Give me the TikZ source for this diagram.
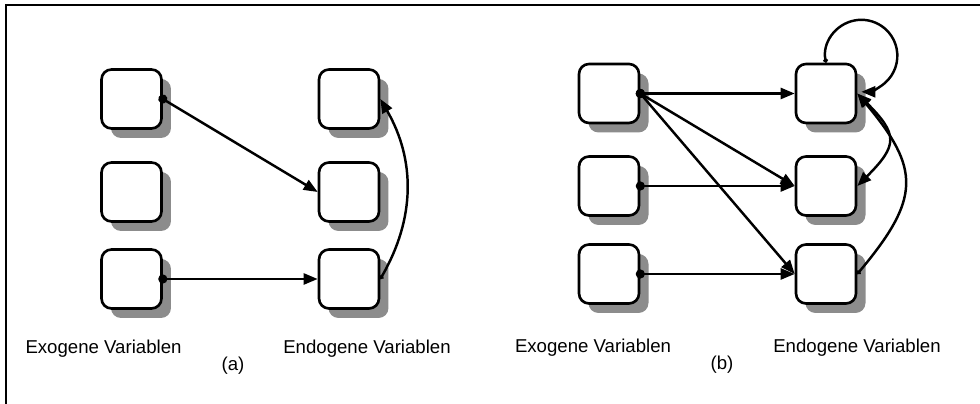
\documentclass[tikz,border=0pt]{standalone}
\usepackage{fontspec}
\setmainfont{Liberation Sans}
\usetikzlibrary{arrows.meta,shadows}

\begin{document}
\begin{tikzpicture}[x=0.02cm,y=0.02cm,
        var/.style={draw=black,line width=1.5pt,fill=white,rounded corners=0.2cm,
            minimum width=1.2cm,minimum height=1.18cm,
            drop shadow={shadow xshift=0.19cm,shadow yshift=-0.19cm,fill=black!45,opacity=1}},
        pfeil/.style={line width=1.4pt,shorten <=-0.09cm,
            {Circle[length=0.18cm]}-{Triangle[length=0.28cm,width=0.22cm]}},
        bogen/.style={line width=1.4pt,{Circle[length=0.09cm]}-{Triangle[length=0.28cm,width=0.22cm]}},
        beide/.style={line width=1.4pt,{Triangle[length=0.28cm,width=0.22cm]}-{Triangle[length=0.28cm,width=0.22cm]}},
        beschr/.style={font=\fontsize{10.6pt}{12pt}\selectfont,anchor=base,inner sep=0pt}]
        \useasboundingbox (0,0) rectangle (980,404);
        % рамка
        \draw[line width=1.4pt] (6,0) -- (6,399) -- (980,399);

        % (a)
        \node[var] (xa1) at (131.5,305) {};
        \node[var] (xa2) at (131.5,212) {};
        \node[var] (xa3) at (131.5,125) {};
        \node[var] (ya1) at (349,305) {};
        \node[var] (ya2) at (349,212) {};
        \node[var] (ya3) at (349,125) {};

        \draw[pfeil] (xa1.east) -- (ya2.west);
        \draw[pfeil] (xa3.east) -- (ya3.west);
        \draw[bogen] (ya3.east) to[bend right=30] (ya1.east);

        \node[beschr] (exa) at (103.5,50) {Exogene Variablen};
        \node[beschr] (ena) at (367,50) {Endogene Variablen};
        \node[beschr] (ta) at (233,33) {(a)};

        % (b)
        \node[var] (xb1) at (609,310.5) {};
        \node[var] (xb2) at (609,218) {};
        \node[var] (xb3) at (609,130) {};
        \node[var] (yb1) at (826,310.5) {};
        \node[var] (yb2) at (826,218) {};
        \node[var] (yb3) at (826,130) {};

        \draw[pfeil] (xb1.east) -- (yb1.west);
        \draw[pfeil] (xb1.east) -- (yb2.west);
        \draw[pfeil] (xb1.east) -- (yb3.west);
        \draw[pfeil] (xb2.east) -- (yb2.west);
        \draw[pfeil] (xb3.east) -- (yb3.west);
        \draw[beide] (yb1.east) to[out=-45,in=45,looseness=1.6] (yb2.east);
        \draw[bogen] (yb3.east) to[out=50,in=-50,looseness=1.4] (yb1.east);
        \draw[bogen] (yb1.north) arc[start angle=191,end angle=-90,radius=36];

        \node[beschr] (exb) at (593,51) {Exogene Variablen};
        \node[beschr] (enb) at (857,51) {Endogene Variablen};
        \node[beschr] (tb) at (722,34) {(b)};
\end{tikzpicture}
\end{document}
